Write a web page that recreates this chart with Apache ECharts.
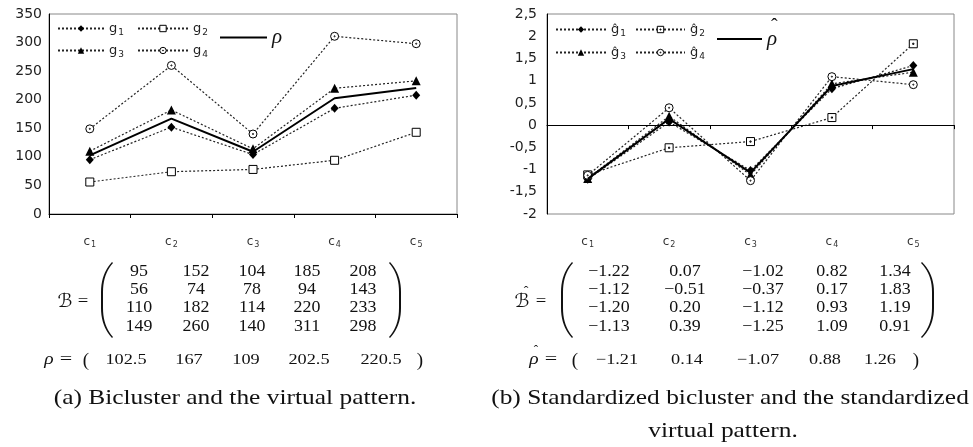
<!DOCTYPE html>
<html>
<head>
<meta charset="utf-8">
<script src="https://cdn.jsdelivr.net/npm/echarts@6/dist/echarts.min.js"></script>
<style>
  html, body { margin: 0; padding: 0; background: #fff; }
  #chart { width: 973px; height: 447px; }
</style>
</head>
<body>
<div id="chart"></div>
<script>
// Conditions (columns of the bicluster)
const conditions = ['c1', 'c2', 'c3', 'c4', 'c5'];

// Bicluster B: one row per gene
const g1 = [95, 152, 104, 185, 208];
const g2 = [56, 74, 78, 94, 143];
const g3 = [110, 182, 114, 220, 233];
const g4 = [149, 260, 140, 311, 298];
// Virtual pattern rho
const rho = [102.5, 167, 109, 202.5, 220.5];

// Standardized bicluster B-hat
const g1s = [-1.22, 0.07, -1.02, 0.82, 1.34];
const g2s = [-1.12, -0.51, -0.37, 0.17, 1.83];
const g3s = [-1.20, 0.20, -1.12, 0.93, 1.19];
const g4s = [-1.13, 0.39, -1.25, 1.09, 0.91];
// Standardized virtual pattern rho-hat
const rhos = [-1.21, 0.14, -1.07, 0.88, 1.26];

// Value-axis ticks
const rawYTicks = [0, 50, 100, 150, 200, 250, 300, 350];
const stdYTicks = [-2, -1.5, -1, -0.5, 0, 0.5, 1, 1.5, 2, 2.5];

// ---- layout / style ----
const SANS = '"DejaVu Sans", "Liberation Sans", sans-serif';
const SERIF = '"Liberation Serif", "Times New Roman", serif';
const INK = '#111';

const markers = {
  diamond: { symbol: 'diamond', size: [8, 9], item: { color: '#000' } },
  square: { symbol: 'rect', size: 8, item: { color: '#fff', borderColor: '#000', borderWidth: 1 } },
  squareDot: { symbol: 'path://M0,0H20V20H0ZM8.5,8.5H11.5V11.5H8.5Z', size: 8, item: { color: '#fff', borderColor: '#000', borderWidth: 1 } },
  triangle: { symbol: 'triangle', size: 9, item: { color: '#000' } },
  ring: { symbol: 'path://M10,0A10,10,0,1,1,10,20A10,10,0,1,1,10,0ZM10,8.6A1.4,1.4,0,1,1,10,11.4A1.4,1.4,0,1,1,10,8.6Z', size: 8, item: { color: '#fff', borderColor: '#000', borderWidth: 1 } }
};

function geneSeries(name, data, idx, m) {
  return {
    type: 'line', name, data,
    xAxisIndex: idx, yAxisIndex: idx,
    symbol: m.symbol, symbolSize: m.size, showAllSymbol: true,
    itemStyle: m.item,
    lineStyle: { color: '#222', width: 1.2, type: [2, 2] },
    emphasis: { disabled: true },
    z: 3
  };
}
function patternSeries(name, data, idx, extra) {
  return Object.assign({
    type: 'line', name, data,
    xAxisIndex: idx, yAxisIndex: idx,
    symbol: 'none',
    itemStyle: { color: '#000' },
    lineStyle: { color: '#000', width: 2, type: 'solid' },
    emphasis: { disabled: true },
    z: 4
  }, extra || {});
}

const subRich = {
  g: { fontFamily: SANS, fontSize: 13, color: '#222', lineHeight: 15 },
  s: { fontFamily: SANS, fontSize: 9, color: '#222', lineHeight: 9, padding: [8, 0, 0, 1] }
};
function geneLegend(name, left, top, w) {
  return {
    data: [name], left, top, padding: 0,
    itemWidth: w, itemHeight: 8, selectedMode: false,
    itemStyle: { borderWidth: 1 },
    formatter: n => '{g|' + n.slice(0, -1) + '}{s|' + n.slice(-1) + '}',
    textStyle: { rich: subRich }
  };
}
// Legend for the pattern line; `hat` puts a circumflex over the symbol.
// The rho token is padded below so that it stays level with the line icon.
function patternLegend(name, left, top, w, hat) {
  return {
    data: [{ name, icon: 'rect', itemStyle: { color: '#000' } }],
    left, top, padding: 0,
    itemWidth: w, itemHeight: 2, selectedMode: false,
    formatter: () => hat ? '{h|\u02C6}\n{rh|\u03C1}' : '{r|\u03C1}',
    textStyle: {
      rich: {
        r: { fontFamily: SERIF, fontStyle: 'italic', fontSize: 21, lineHeight: 22, color: INK },
        rh: { fontFamily: SERIF, fontStyle: 'italic', fontSize: 21, lineHeight: 22, color: INK, padding: [0, 0, 16, 0] },
        h: { fontFamily: SERIF, fontSize: 20, lineHeight: 16, color: INK, padding: [0, 0, 0, 4] }
      }
    }
  };
}

function xAxisFor(idx) {
  return {
    type: 'category', gridIndex: idx, data: conditions, boundaryGap: true,
    axisLine: { lineStyle: { color: '#000', width: 1 } },
    axisTick: { show: true, length: 4, lineStyle: { color: '#000' } },
    splitLine: { show: false },
    axisLabel: {
      margin: 21,
      formatter: v => '{c|' + v[0] + '}{s|' + v.slice(1) + '}',
      rich: {
        c: { fontFamily: SANS, fontSize: 12, color: '#333', lineHeight: 13 },
        s: { fontFamily: SANS, fontSize: 8, color: '#333', lineHeight: 8, padding: [7, 0, 0, 1] }
      }
    }
  };
}
function yAxisFor(idx, ticks, fmt, margin) {
  return {
    type: 'value', gridIndex: idx,
    min: ticks[0], max: ticks[ticks.length - 1], interval: ticks[1] - ticks[0],
    axisLine: { show: true, lineStyle: { color: '#000', width: 1 } },
    axisTick: { show: false },
    splitLine: { show: false },
    axisLabel: { formatter: fmt, margin, fontFamily: SANS, fontSize: 14, color: '#222' }
  };
}

// ---- matrix and vector text under the charts ----
const fmtStd = v => (v < 0 ? '\u2212' : '') + Math.abs(v).toFixed(2);
const rowYs = [272, 290, 308, 327];
const leftCols = [139, 196, 252, 307, 363];
const rightCols = [609, 685, 763, 832, 895];
const leftVecCols = [126, 189, 246, 309, 381];
const rightVecCols = [617, 687, 758, 825, 880];
const vecY = 360;

function txt(x, y, text, size, opts) {
  opts = opts || {};
  return {
    type: 'text', x, y, scaleX: opts.sx || 1, silent: true,
    style: {
      text, fontSize: size, fontFamily: opts.family || SERIF, fontStyle: opts.italic ? 'italic' : 'normal',
      fill: INK, align: opts.align || 'center', verticalAlign: 'middle'
    }
  };
}

// Tall matrix parenthesis: a crescent polygon (hooked ends, straight middle)
function quad(p0, p1, p2, n) {
  const pts = [];
  for (let i = 0; i <= n; i++) {
    const t = i / n, a = (1 - t) * (1 - t), b = 2 * (1 - t) * t, c = t * t;
    pts.push([a * p0[0] + b * p1[0] + c * p2[0], a * p0[1] + b * p1[1] + c * p2[1]]);
  }
  return pts;
}
function bigParen(end, bulge, top, bottom, dir) {
  const r = 12, h = 30, t = 2 * dir;
  const outer = [].concat(
    quad([end, top], [bulge, top + r], [bulge, top + h], 10),
    quad([bulge, bottom - h], [bulge, bottom - r], [end, bottom], 10)
  );
  const inner = [].concat(
    quad([end + dir, bottom - 1], [bulge + t, bottom - r], [bulge + t, bottom - h], 10),
    quad([bulge + t, top + h], [bulge + t, top + r], [end + dir, top + 1], 10)
  );
  return { type: 'polygon', silent: true, shape: { points: outer.concat(inner) }, style: { fill: INK } };
}

function matrixText(rows, cols, fmt) {
  const out = [];
  rows.forEach((row, r) => row.forEach((v, c) => out.push(txt(cols[c], rowYs[r], fmt(v), 16, { sx: 1.12 }))));
  return out;
}
function vectorText(vals, cols, fmt) {
  return vals.map((v, c) => txt(cols[c], vecY, fmt(v), 15, { sx: 1.22 }));
}

const SCRIPT = '"DejaVu Serif", "DejaVu Sans", serif';
const graphics = [].concat(
  // left: B = ( ... )
  [txt(65, 302, '\u212C', 19, { family: SCRIPT, italic: true }),
   txt(83, 302, '=', 17, { sx: 1.1 }),
   bigParen(112, 101, 262, 338, 1),
   bigParen(390, 401, 262, 338, -1)],
  matrixText([g1, g2, g3, g4], leftCols, v => String(v)),
  [txt(49, vecY, '\u03C1', 17, { italic: true, sx: 1.15 }),
   txt(66, vecY, '=', 17, { sx: 1.3 }),
   txt(86, vecY + 1, '(', 19),
   txt(420, vecY + 1, ')', 19)],
  vectorText(rho, leftVecCols, v => String(v)),
  [txt(235, 398, '(a) Bicluster and the virtual pattern.', 21, { sx: 1.21 })],
  // right: B-hat = ( ... )
  [txt(522, 302, '\u212C', 19, { family: SCRIPT, italic: true }),
   txt(526, 292, '\u02C6', 14),
   txt(541, 302, '=', 17, { sx: 1.1 }),
   bigParen(572, 561, 262, 338, 1),
   bigParen(922, 934, 262, 338, -1)],
  matrixText([g1s, g2s, g3s, g4s], rightCols, fmtStd),
  [txt(534, vecY, '\u03C1', 17, { italic: true, sx: 1.15 }),
   txt(536, vecY - 9, '\u02C6', 13),
   txt(551, vecY, '=', 17, { sx: 1.3 }),
   txt(575, vecY + 1, '(', 19),
   txt(916, vecY + 1, ')', 19)],
  vectorText(rhos, rightVecCols, fmtStd),
  [txt(730, 398, '(b) Standardized bicluster and the standardized', 21, { sx: 1.21 }),
   txt(723, 431, 'virtual pattern.', 21, { sx: 1.21 })]
);

const option = {
  animation: false,
  grid: [
    { left: 49, top: 14, width: 408, height: 200, show: true, borderColor: '#888', borderWidth: 1, backgroundColor: 'transparent' },
    { left: 547, top: 14, width: 407, height: 200, show: true, borderColor: '#888', borderWidth: 1, backgroundColor: 'transparent' }
  ],
  xAxis: [xAxisFor(0), xAxisFor(1)],
  yAxis: [
    yAxisFor(0, rawYTicks, v => String(v), 7),
    yAxisFor(1, stdYTicks, v => String(v).replace('.', ','), 10)
  ],
  legend: [
    geneLegend('g1', 57, 20, 46), geneLegend('g2', 137, 20, 50),
    geneLegend('g3', 57, 42, 46), geneLegend('g4', 137, 42, 50),
    patternLegend('\u03C1', 220, 27, 47, false),
    geneLegend('\u011D1', 555, 21, 50), geneLegend('\u011D2', 635, 21, 49),
    geneLegend('\u011D3', 555, 44, 50), geneLegend('\u011D4', 635, 44, 49),
    patternLegend('\u03C1\u0302', 717, 18, 45, true)
  ],
  series: [
    geneSeries('g1', g1, 0, markers.diamond),
    geneSeries('g2', g2, 0, markers.square),
    geneSeries('g3', g3, 0, markers.triangle),
    geneSeries('g4', g4, 0, markers.ring),
    patternSeries('\u03C1', rho, 0),
    geneSeries('\u011D1', g1s, 1, markers.diamond),
    geneSeries('\u011D2', g2s, 1, markers.squareDot),
    geneSeries('\u011D3', g3s, 1, markers.triangle),
    geneSeries('\u011D4', g4s, 1, markers.ring),
    patternSeries('\u03C1\u0302', rhos, 1, {
      markLine: {
        silent: true, symbol: 'none', label: { show: false },
        lineStyle: { color: '#000', width: 1, type: 'solid' },
        emphasis: { disabled: true },
        data: [{ yAxis: 0 }]
      }
    })
  ],
  graphic: graphics
};

const chart = echarts.init(document.getElementById('chart'), null, { renderer: 'canvas' });
chart.setOption(option);
</script>
</body>
</html>
